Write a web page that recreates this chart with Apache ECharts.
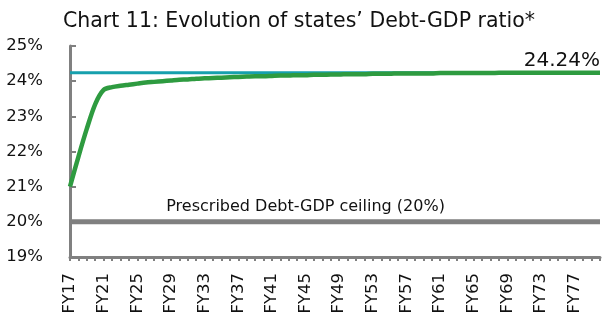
<!DOCTYPE html>
<html>
<head>
<meta charset="utf-8">
<script src="https://cdn.jsdelivr.net/npm/echarts@6/dist/echarts.min.js"></script>
<style>
  html, body { margin: 0; padding: 0; background: #fff; }
  #chart { width: 608px; height: 320px; }
</style>
</head>
<body>
<div id="chart"></div>
<script>
// categories FY17 .. FY80
const years = [];
for (let y = 17; y <= 80; y++) years.push('FY' + y);

// states' Debt-GDP ratio path (%)
const debtGdp = [
  21.00, 21.85, 22.65, 23.35, 23.75, 23.83, 23.87, 23.90, 23.93, 23.96,
  23.98, 24.00, 24.02, 24.04, 24.05, 24.07, 24.08, 24.09, 24.10, 24.11,
  24.12, 24.13, 24.14, 24.14, 24.15, 24.16, 24.16, 24.17, 24.17, 24.18,
  24.18, 24.19, 24.19, 24.20, 24.20, 24.20, 24.21, 24.21, 24.21, 24.22,
  24.22, 24.22, 24.22, 24.22, 24.23, 24.23, 24.23, 24.23, 24.23, 24.23,
  24.23, 24.24, 24.24, 24.24, 24.24, 24.24, 24.24, 24.24, 24.24, 24.24,
  24.24, 24.24, 24.24, 24.24
];
const steadyState = 24.24;
const ceiling = 20;
const yTicks = [19, 20, 21, 22, 23, 24, 25];

const steadyLine = years.map(() => steadyState);
const ceilingLine = years.map(() => ceiling);

const font = 'DejaVu Sans';
const chart = echarts.init(document.getElementById('chart'));

chart.setOption({
  animation: false,
  textStyle: { fontFamily: font },
  title: {
    text: "Chart 11: Evolution of states\u2019 Debt-GDP ratio*",
    left: 58,
    top: 6,
    textStyle: { fontFamily: font, fontSize: 20.5, fontWeight: 'normal', color: '#111' }
  },
  grid: { left: 70, right: 8, top: 46, bottom: 63 },
  xAxis: {
    type: 'category',
    data: years,
    boundaryGap: false,
    axisLine: { lineStyle: { color: '#808080', width: 3 } },
    axisTick: { show: true, interval: 0, length: 4, lineStyle: { color: '#808080', width: 2 } },
    axisLabel: { interval: 3, rotate: 90, fontSize: 16.5, color: '#111', margin: 16, fontFamily: font },
    splitLine: { show: false }
  },
  yAxis: {
    type: 'value',
    min: yTicks[0],
    max: yTicks[yTicks.length - 1],
    interval: 1,
    axisLine: { show: true, lineStyle: { color: '#808080', width: 3 } },
    axisTick: { show: true, inside: true, length: 6, lineStyle: { color: '#808080', width: 2 } },
    axisLabel: { formatter: '{value}%', fontSize: 16.5, color: '#111', margin: 27, fontFamily: font },
    splitLine: { show: false }
  },
  series: [
    {
      name: 'ceiling',
      type: 'line',
      data: ceilingLine,
      symbol: 'circle',
      symbolSize: 0,
      showSymbol: true,
      lineStyle: { color: '#808080', width: 5 },
      label: {
        show: true,
        position: 'top',
        distance: 7,
        fontSize: 16,
        color: '#111',
        formatter: (p) => p.dataIndex === 28 ? 'Prescribed Debt-GDP ceiling (20%)' : ''
      },
      z: 1
    },
    {
      name: 'steady',
      type: 'line',
      data: steadyLine,
      symbol: 'circle',
      symbolSize: 0,
      showSymbol: true,
      lineStyle: { color: '#16a0ad', width: 3 },
      label: {
        show: true,
        position: 'top',
        align: 'right',
        distance: 2,
        fontSize: 20,
        color: '#111',
        formatter: (p) => p.dataIndex === years.length - 1 ? steadyState.toFixed(2) + '%' : ''
      },
      z: 2
    },
    {
      name: 'Debt-GDP',
      type: 'line',
      data: debtGdp,
      symbol: 'none',
      smooth: 0.3,
      lineStyle: { color: '#2e9b40', width: 4.5 },
      z: 3
    }
  ]
});
</script>
</body>
</html>
